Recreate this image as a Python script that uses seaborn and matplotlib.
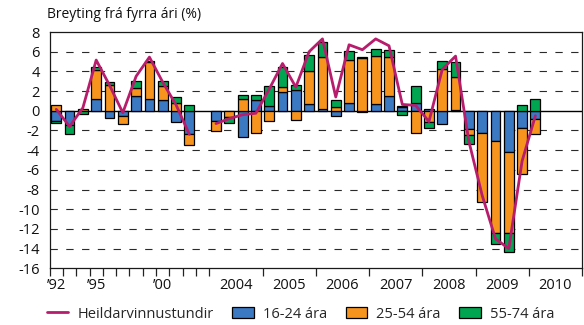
import numpy as np
import pandas as pd
import matplotlib
matplotlib.use("Agg")
import matplotlib.pyplot as plt
import seaborn as sns
from matplotlib.patches import Patch
from matplotlib.lines import Line2D

# Periods: annual 1992-2003, then quarterly 2004Q1-2010Q4
years = [str(y) for y in range(1992, 2004)]
quarters = [f"{y}Q{q}" for y in range(2004, 2011) for q in range(1, 5)]
periods = years + quarters

nan = np.nan
# Contribution to change in hours worked by age group (%)
age_16_24 = [-1.05, -1.4, 0.0, 1.15, -0.75, -0.55, 1.52, 1.2, 1.1, -1.15, -2.4, nan,
             -1.05, 0.0, -2.7, 1.05,
             0.5, 1.93, 2.06, 0.7,
             0.15, -0.55, 0.82, -0.08,
             0.7, 1.5, 0.4, 0.76,
             0.13, -1.35, 0.1, -1.9,
             -2.25, -3.1, -4.15, -1.7,
             -0.8, nan, nan, nan]
age_25_54 = [0.6, 0.0, 0.15, 2.95, 2.57, -0.8, 0.81, 3.8, 1.45, 0.8, -1.05, nan,
             -1.05, -0.6, 1.2, -2.3,
             -1.0, 0.46, -0.95, 3.3,
             5.3, 0.42, 4.38, 5.35,
             4.88, 4.0, 0.05, -2.3,
             -1.15, 4.25, 3.3, -0.6,
             -7.05, -9.35, -8.3, -4.7,
             -1.6, nan, nan, nan]
age_55_74 = [-0.2, -0.95, -0.3, 0.35, 0.37, 0.0, 0.71, 0.05, 0.45, 0.58, 0.6, nan,
             0.0, -0.6, 0.43, 0.57,
             2.05, 2.07, 0.6, 1.7,
             1.55, 0.65, 0.88, 0.08,
             0.7, 0.7, -0.48, 1.73,
             -0.55, 0.8, 1.6, -0.85,
             0.0, -1.05, -1.9, 0.6,
             1.2, nan, nan, nan]
# Total hours worked (%)
total_hours = [0.15, -1.6, 0.3, 5.15, 2.6, -0.2, 3.5, 5.45, 2.9, 0.6, -2.4, nan,
               -1.3, -0.8, -0.4, -0.25,
               2.2, 4.8, 2.4, 6.0,
               7.3, 1.4, 6.7, 6.2,
               7.3, 6.6, 0.64, 0.55,
               -1.1, 4.2, 5.55, -3.1,
               -8.6, -13.0, -14.0, -5.1,
               -0.5, nan, nan, nan]

series_labels = ["16-24 ára", "25-54 ára", "55-74 ára"]
line_label = "Heildarvinnustundir"
title = "Breyting frá fyrra ári (%)"
x_labels = ["\u201992", "\u201995", "\u201900",
            "2004", "2005", "2006", "2007", "2008", "2009", "2010"]

colors = ["#3B79C3", "#F7941E", "#00A551"]
line_color = "#B81C6C"

sns.set_theme(style="white")
plt.rcParams["font.family"] = ["Open Sans", "DejaVu Sans"]

W, H = 584, 325
fig = plt.figure(figsize=(W / 100, H / 100), dpi=100)
left, right, top, bottom = 49.6, 582, 32, 268.3
ax = fig.add_axes([left / W, 1 - bottom / H, (right - left) / W, (bottom - top) / H])

n = len(periods)
x = np.arange(n)

# Diverging stacked bars: positives stack upwards, negatives downwards
pos_base = np.zeros(n)
neg_base = np.zeros(n)
for vals, color in zip([age_16_24, age_25_54, age_55_74], colors):
    v = np.nan_to_num(np.asarray(vals, dtype=float))
    base = np.where(v >= 0, pos_base, neg_base)
    keep = v != 0
    ax.bar(x[keep], v[keep], bottom=base[keep], width=0.74, color=color,
           edgecolor="black", linewidth=0.9, zorder=3)
    pos_base += np.where(v > 0, v, 0)
    neg_base += np.where(v < 0, v, 0)

# Total hours line, broken where no data exists
df = pd.DataFrame({"x": x, "total": total_hours})
df["segment"] = np.where(df["x"] < 11, 0, 1)
for _, seg in df.dropna().groupby("segment"):
    sns.lineplot(data=seg, x="x", y="total", color=line_color, linewidth=2.0,
                 ax=ax, zorder=5, legend=False)

# Gridlines
for v in [6, 4, 2, -2, -4, -6, -8, -10, -12, -14]:
    ax.axhline(v, color="#2a2a2a", linewidth=0.8, linestyle=(0, (6.6, 7.6)), zorder=1)
ax.axhline(0, color="black", linewidth=1.0, zorder=2)

ax.set_xlim(-0.5, n - 0.5)
ax.set_ylim(-16, 8)
yt = list(range(-16, 9, 2))
ax.set_yticks(yt)
ax.set_yticklabels([str(v) for v in yt])
ax.tick_params(axis="y", length=0, pad=7, labelsize=10.5, labelcolor="#111")

# Tick marks at period boundaries; labels centred on periods
edges = [e - 0.5 for e in range(0, 13)] + [11.5 + 4 * k for k in range(1, 8)]
ax.set_xticks(edges)
ax.set_xticklabels([""] * len(edges))
ax.tick_params(axis="x", which="major", length=5.8, width=0.9, color="#222",
               direction="out", bottom=True)
label_pos = [0, 3, 8] + [13.5 + 4 * k for k in range(7)]
ax.set_xticks(label_pos, minor=True)
ax.set_xticklabels(x_labels, minor=True)
ax.tick_params(axis="x", which="minor", length=0, pad=7, labelsize=10.5,
               labelcolor="#111")
ax.set_xlabel("")
ax.set_ylabel("")

for s in ax.spines.values():
    s.set_visible(True)
    s.set_color("#1a1a1a")
    s.set_linewidth(0.9)

fig.text(47 / W, 1 - 14 / H, title, ha="left", va="center", fontsize=10, color="#111")

handles = [Line2D([], [], color=line_color, linewidth=2.0)] + \
          [Patch(facecolor=c, edgecolor="black", linewidth=0.9) for c in colors]
fig.legend(handles, [line_label] + series_labels, loc="center left",
           bbox_to_anchor=(47 / W, 1 - 314 / H), ncol=4, frameon=False,
           fontsize=10.5, handlelength=1.45, handleheight=0.75,
           columnspacing=1.3, handletextpad=0.62, borderpad=0, borderaxespad=0)

fig.savefig("out.png", dpi=100)
